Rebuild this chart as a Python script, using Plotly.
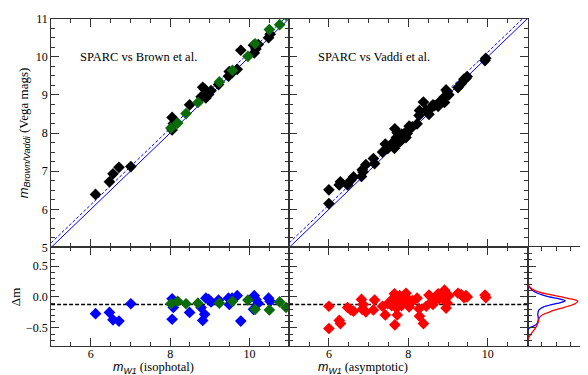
import plotly.graph_objects as go

# Brown et al. comparison (isophotal m_W1): blue/black points and green points
brown_w1 = [6.12, 6.47, 6.56, 6.71, 7.01, 8.05, 8.08, 8.05, 8.49, 8.78, 8.87, 8.82, 8.90, 8.97,
            9.03, 9.22, 9.47, 9.49, 9.56, 9.69, 9.78, 10.12, 10.16, 10.10, 10.22, 10.48, 10.52]
brown_dm = [-0.27, -0.25, -0.37, -0.39, -0.11, -0.03, -0.17, -0.36, -0.25, -0.17, -0.28, -0.38, -0.02, -0.04,
            -0.08, -0.05, -0.02, -0.12, -0.02, 0.02, -0.39, 0.02, -0.04, -0.20, -0.10, -0.02, -0.07]
green_w1 = [8.02, 8.19, 8.40, 8.70, 9.24, 9.57, 9.96, 10.14, 10.50, 10.76, 10.92]
green_dm = [-0.11, -0.07, -0.11, -0.10, -0.10, -0.07, -0.05, -0.20, -0.21, -0.08, -0.17]

# Vaddi et al. comparison (asymptotic m_W1)
vaddi_w1 = [6.00, 6.00, 6.26, 6.29, 6.47, 6.55, 6.62, 6.82, 6.86, 6.84, 6.93, 7.15, 7.12, 7.35,
            7.42, 7.48, 7.62, 7.65, 7.66, 7.66, 7.72, 7.78, 7.80, 7.83, 7.88, 7.94, 7.97, 8.00,
            8.02, 8.05, 8.10, 7.58, 7.70, 8.22, 8.27, 8.28, 8.38, 8.45, 8.52, 8.58, 8.62, 8.66,
            8.75, 8.78, 8.82, 8.87, 8.91, 8.91, 8.95, 8.98, 9.02, 9.25, 9.33, 9.40, 9.45, 9.48,
            9.93, 9.95]
vaddi_dm = [-0.15, -0.51, -0.38, -0.43, -0.17, -0.21, -0.23, -0.04, -0.12, -0.20, -0.24, -0.05, -0.21, -0.15,
            -0.29, -0.11, -0.02, 0.05, -0.08, -0.45, -0.29, 0.02, -0.05, -0.14, -0.09, 0.06, -0.02, -0.08,
            -0.16, -0.10, -0.06, -0.14, -0.18, -0.02, -0.19, -0.31, -0.43, -0.15, 0.03, -0.08, -0.12, -0.06,
            0.05, -0.03, 0.02, 0.03, 0.11, -0.04, -0.18, -0.10, 0.02, 0.06, 0.04, -0.01, 0.02, 0.00,
            0.03, -0.01]

mean_offset = -0.12

# distribution curves in the side panel
blue_curve_dm = [0.8, 0.2, 0.14, 0.08, 0.03, 0.0, -0.03, -0.06, -0.09, -0.12, -0.16, -0.21,
                 -0.28, -0.36, -0.44, -0.48, -0.51, -0.54, -0.8]
blue_curve_h = [0, 0, 0.05, 0.13, 0.27, 0.38, 0.55, 0.66, 0.58, 0.44, 0.28, 0.20,
                0.18, 0.19, 0.16, 0.08, 0.02, 0, 0]
red_curve_dm = [0.8, 0.21, 0.15, 0.10, 0.05, 0.0, -0.04, -0.07, -0.11, -0.15, -0.19, -0.23,
                -0.28, -0.33, -0.40, -0.47, -0.53, -0.60, -0.66, -0.70, -0.8]
red_curve_h = [0, 0, 0.05, 0.14, 0.33, 0.60, 0.80, 0.88, 0.83, 0.71, 0.56, 0.42,
               0.28, 0.21, 0.19, 0.16, 0.12, 0.06, 0.02, 0, 0]

brown_ref = [w - d for w, d in zip(brown_w1, brown_dm)]
green_ref = [w - d for w, d in zip(green_w1, green_dm)]
vaddi_ref = [w - d for w, d in zip(vaddi_w1, vaddi_dm)]

W, H = 588, 375
def fx(p):
    return p / W
def fy(p):
    return 1 - p / H

xl = [fx(43.1), fx(281.2)]
xr = [fx(281.2), fx(519.5)]
xh = [fx(519.5), fx(586.7)]
yt = [fy(241.5), fy(3.7)]
yb = [fy(344.3), fy(241.5)]

serif = "Liberation Serif"
BLUE = "#0000ff"
GREEN = "#0b6b0b"
RED = "#ff0000"

fig = go.Figure()
mk = dict(symbol="diamond", size=9, line=dict(width=0))
xr_line = [5, 11]

# top left
fig.add_trace(go.Scatter(x=xr_line, y=xr_line, mode="lines", line=dict(color=BLUE, width=1), xaxis="x", yaxis="y"))
fig.add_trace(go.Scatter(x=xr_line, y=[v - mean_offset for v in xr_line], mode="lines",
                         line=dict(color=BLUE, width=1, dash="3px,2px"), xaxis="x", yaxis="y"))
fig.add_trace(go.Scatter(x=brown_w1, y=brown_ref, mode="markers", marker=dict(mk, color="black"), xaxis="x", yaxis="y"))
fig.add_trace(go.Scatter(x=green_w1, y=green_ref, mode="markers", marker=dict(mk, color=GREEN), xaxis="x", yaxis="y"))

# top right
fig.add_trace(go.Scatter(x=xr_line, y=xr_line, mode="lines", line=dict(color=BLUE, width=1), xaxis="x2", yaxis="y2"))
fig.add_trace(go.Scatter(x=xr_line, y=[v - mean_offset for v in xr_line], mode="lines",
                         line=dict(color=BLUE, width=1, dash="3px,2px"), xaxis="x2", yaxis="y2"))
fig.add_trace(go.Scatter(x=vaddi_w1, y=vaddi_ref, mode="markers", marker=dict(mk, color="black"), xaxis="x2", yaxis="y2"))

# bottom left
fig.add_trace(go.Scatter(x=xr_line, y=[mean_offset] * 2, mode="lines", line=dict(color="black", width=1.5, dash="4px,2px"),
                         xaxis="x3", yaxis="y3"))
fig.add_trace(go.Scatter(x=brown_w1, y=brown_dm, mode="markers", marker=dict(mk, color=BLUE), xaxis="x3", yaxis="y3"))
fig.add_trace(go.Scatter(x=green_w1, y=green_dm, mode="markers", marker=dict(mk, color=GREEN), xaxis="x3", yaxis="y3"))

# bottom right
fig.add_trace(go.Scatter(x=xr_line, y=[mean_offset] * 2, mode="lines", line=dict(color="black", width=1.5, dash="4px,2px"),
                         xaxis="x4", yaxis="y4"))
fig.add_trace(go.Scatter(x=vaddi_w1, y=vaddi_dm, mode="markers", marker=dict(mk, color=RED), xaxis="x4", yaxis="y4"))

# side panel
fig.add_trace(go.Scatter(x=blue_curve_h, y=blue_curve_dm, mode="lines", line=dict(color=BLUE, width=1.3, shape="spline", smoothing=0.8),
                         xaxis="x5", yaxis="y5"))
fig.add_trace(go.Scatter(x=red_curve_h, y=red_curve_dm, mode="lines", line=dict(color=RED, width=1.3, shape="spline", smoothing=0.8),
                         xaxis="x5", yaxis="y5"))

tickfont = dict(family=serif, size=12, color="black")
common = dict(showline=True, linecolor="#333333", linewidth=1, mirror="allticks", ticks="inside",
              ticklen=8, tickcolor="#333333", showgrid=False, zeroline=False, tickfont=tickfont)

def xax(domain, anchor, labels):
    return dict(common, domain=domain, anchor=anchor, range=[5, 11], tick0=0, dtick=2,
                showticklabels=labels, ticklabelstandoff=-4,
                minor=dict(dtick=0.5, ticks="inside", ticklen=4, tickcolor="#333333", showgrid=False))

def yax(domain, anchor, rng, dt, mdt, labels, title=None, fmt=None):
    d = dict(common, domain=domain, anchor=anchor, range=rng, tick0=0, dtick=dt,
             showticklabels=labels, ticklabeloverflow="allow",
             minor=dict(dtick=mdt, ticks="inside", ticklen=4, tickcolor="#333333", showgrid=False))
    if fmt:
        d["tickformat"] = fmt
    if title:
        d["title"] = dict(text=title, font=dict(family=serif, size=13, color="black"), standoff=4)
    return d

mlabel = '<span style="font-family:Liberation Sans"><i>m</i><sub><i>W1</i></sub></span>'
fig.update_layout(
    width=W, height=H, margin=dict(l=0, r=0, t=0, b=0),
    paper_bgcolor="white", plot_bgcolor="white", showlegend=False,
    font=dict(family=serif, color="black"),
    xaxis=xax(xl, "y", False),
    yaxis=yax(yt, "x", [5, 11], 1, 0.25, True,
              '<span style="font-family:Liberation Sans"><i>m</i><sub><i>Brown/Vaddi</i></sub></span> (Vega mags)'),
    xaxis2=xax(xr, "y2", False),
    yaxis2=yax(yt, "x2", [5, 11], 1, 0.25, False),
    xaxis3=xax(xl, "y3", True),
    yaxis3=yax(yb, "x3", [-0.8, 0.8], 0.5, 0.1, True, "Δm", ".1f"),
    xaxis4=xax(xr, "y4", True),
    yaxis4=yax(yb, "x4", [-0.8, 0.8], 0.5, 0.1, False),
    xaxis5=dict(common, domain=xh, anchor="y5", range=[0, 1.175], tickvals=[0, 1], showticklabels=False,
                minor=dict(dtick=0.25, ticks="inside", ticklen=4, tickcolor="#333333", showgrid=False)),
    yaxis5=yax(yb, "x5", [-0.8, 0.8], 0.5, 0.1, False),
)

fig.add_annotation(text="SPARC vs Brown et al.", x=7.2, y=10, xref="x", yref="y", showarrow=False,
                   font=dict(family=serif, size=12.5, color="black"))
fig.add_annotation(text="SPARC vs Vaddi et al.", x=7.13, y=10, xref="x2", yref="y2", showarrow=False,
                   font=dict(family=serif, size=12.5, color="black"))
# x axis titles
fig.add_annotation(text=mlabel + " (isophotal)", x=fx(145), y=fy(367), xref="paper", yref="paper",
                   xanchor="center", yanchor="middle", showarrow=False,
                   font=dict(family=serif, size=12.5, color="black"))
fig.add_annotation(text=mlabel + " (asymptotic)", x=fx(355), y=fy(367), xref="paper", yref="paper",
                   xanchor="center", yanchor="middle", showarrow=False,
                   font=dict(family=serif, size=12.5, color="black"))

fig.write_html("out.html")
